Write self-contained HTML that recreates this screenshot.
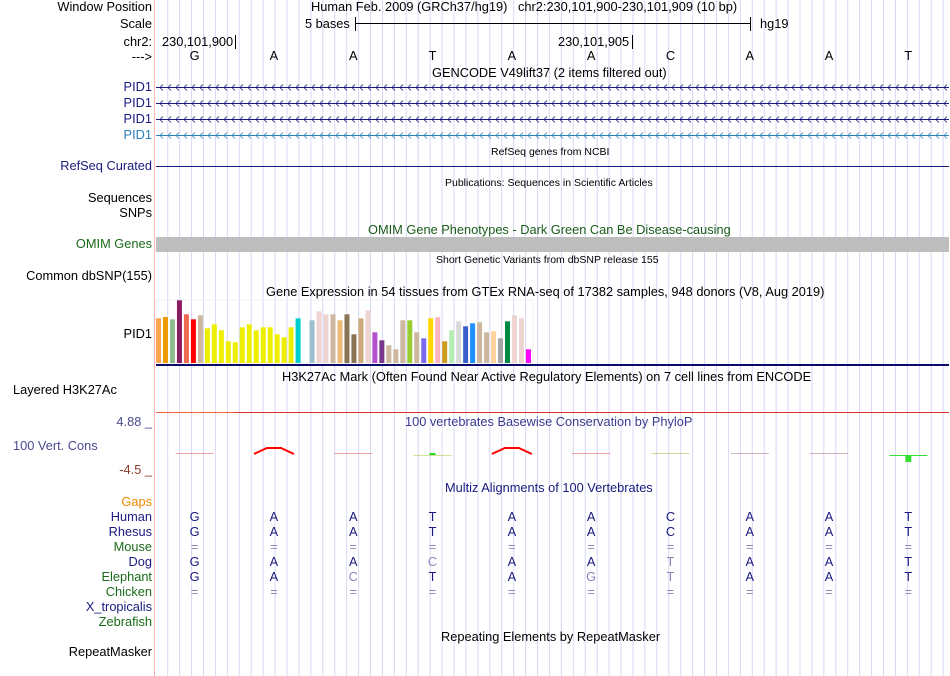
<!DOCTYPE html>
<html><head><meta charset="utf-8"><style>
body{margin:0;width:950px;height:676px;background:#fff;overflow:hidden;position:relative;font-family:"Liberation Sans",sans-serif;}
.t{position:absolute;white-space:nowrap;font-size:12.8px;line-height:14px;color:#000;}
.l{position:absolute;right:798px;white-space:nowrap;font-size:12.8px;line-height:14px;text-align:right;}
.s{position:absolute;white-space:nowrap;font-size:10.5px;line-height:12px;}
svg{position:absolute;left:0;top:0;}
</style></head><body>
<svg id="bg" width="950" height="676"></svg>

<div class="l" style="top:0">Window Position</div>
<div class="l" style="top:17px">Scale</div>
<div class="l" style="top:35px">chr2:</div>
<div class="l" style="top:50px">---&gt;</div>
<div class="t" style="left:311px;top:0">Human Feb. 2009 (GRCh37/hg19) &nbsp; chr2:230,101,900-230,101,909 (10 bp)</div>
<div class="t" style="left:305px;top:17px">5 bases</div>
<div class="t" style="left:760px;top:17px">hg19</div>
<div class="t" style="left:162px;top:35px">230,101,900</div>
<div class="t" style="left:558px;top:35px">230,101,905</div>
<div id="bases"></div>

<div class="t" style="left:432px;top:66px">GENCODE V49lift37 (2 items filtered out)</div>
<div class="l" style="top:80px;color:#1a1a80">PID1</div>
<div class="l" style="top:96px;color:#1a1a80">PID1</div>
<div class="l" style="top:112px;color:#1a1a80">PID1</div>
<div class="l" style="top:128px;color:#2a80bb">PID1</div>
<div class="s" style="left:491px;top:146px">RefSeq genes from NCBI</div>
<div class="l" style="top:159px;color:#1a1a80">RefSeq Curated</div>
<div class="s" style="left:445px;top:177px">Publications: Sequences in Scientific Articles</div>
<div class="l" style="top:191px">Sequences</div>
<div class="l" style="top:206px">SNPs</div>
<div class="t" style="left:368px;top:223px;color:#1a5c1a">OMIM Gene Phenotypes - Dark Green Can Be Disease-causing</div>
<div class="l" style="top:237px;color:#1a6a1a">OMIM Genes</div>
<div class="s" style="left:436px;top:254px">Short Genetic Variants from dbSNP release 155</div>
<div class="l" style="top:269px">Common dbSNP(155)</div>
<div class="t" style="left:266px;top:285px">Gene Expression in 54 tissues from GTEx RNA-seq of 17382 samples, 948 donors (V8, Aug 2019)</div>
<div class="l" style="top:327px">PID1</div>
<div class="t" style="left:282px;top:370px">H3K27Ac Mark (Often Found Near Active Regulatory Elements) on 7 cell lines from ENCODE</div>
<div class="t" style="left:13px;top:383px">Layered H3K27Ac</div>
<div class="l" style="top:415px;color:#4a4a90">4.88 _</div>
<div class="t" style="left:405px;top:415px;color:#3a3a90">100 vertebrates Basewise Conservation by PhyloP</div>
<div class="t" style="left:13px;top:439px;color:#4a4a90">100 Vert. Cons</div>
<div class="l" style="top:463px;color:#8a3a2a">-4.5 _</div>
<div class="t" style="left:445px;top:481px;color:#1a1a80">Multiz Alignments of 100 Vertebrates</div>
<div class="l" style="top:495px;color:#ee8800">Gaps</div>
<div class="l" style="top:510px;color:#1a1a80">Human</div>
<div class="l" style="top:525px;color:#1a1a80">Rhesus</div>
<div class="l" style="top:540px;color:#1a6a1a">Mouse</div>
<div class="l" style="top:555px;color:#1a1a80">Dog</div>
<div class="l" style="top:570px;color:#1a6a1a">Elephant</div>
<div class="l" style="top:585px;color:#1a6a1a">Chicken</div>
<div class="l" style="top:600px;color:#1a1a80">X_tropicalis</div>
<div class="l" style="top:615px;color:#1a6a1a">Zebrafish</div>
<div class="t" style="left:441px;top:630px">Repeating Elements by RepeatMasker</div>
<div class="l" style="top:645px">RepeatMasker</div>
<div id="aln"></div>

<script>
const bases = ["G","A","A","T","A","A","C","A","A","T"];
const aligns = [
 ["GAATAACAAT","0000000000"],
 ["GAATAACAAT","0000000000"],
 ["==========","1111111111"],
 ["GAACAATAAT","0001001000"],
 ["GACTAGTAAT","0010011000"],
 ["==========","1111111111"]
];
const gtexValues = [44.7,46,43.7,62.7,48.7,43.7,47.7,34.7,38.7,32.7,21.7,20.7,35.7,38.7,32.7,35.7,35.7,28.7,25.7,35.7,44.7,0,42.7,51.7,48.7,48.7,42.7,48.7,28.7,44.7,52.7,30.7,22.7,17.7,13.7,42.7,42.7,30.7,24.7,44.7,45.7,21.7,32.7,41.7,36.7,39.7,40.7,30.7,31.7,24.7,41.7,47.7,44.7,13.7];
const gtexColors = ["#ffa54f","#ee9a00","#8fbc8f","#8b1c62","#ee6a50","#ff0000","#cdb79e","#eeee00","#eeee00","#eeee00","#eeee00","#eeee00","#eeee00","#eeee00","#eeee00","#eeee00","#eeee00","#eeee00","#eeee00","#eeee00","#00cdcd","#fff","#9ac0cd","#eed5d2","#eed5d2","#cdb79e","#eebb77","#8b7355","#8b7355","#cdaa7d","#eed5d2","#b452cd","#7a378b","#cdb79e","#cdb79e","#cdb79e","#9acd32","#cdb79e","#7b68ee","#ffd700","#ffb6c1","#cd9b1d","#b4eeb4","#d9d9d9","#3a5fcd","#1e90ff","#cdb79e","#cdb79e","#ffd39b","#a6a6a6","#008b45","#eed5d2","#eed5d2","#ff00ff"];
const phyloScores = [-0.2,2.0,-0.2,0.3,2.0,-0.2,-0.1,-0.2,-0.2,0.6];
const phyloColors = ["#e03030","#ff0000","#e03030","#99bb22","#ff0000","#e03030","#aaaa22","#a06060","#a06060","#33dd33"];

const NS="http://www.w3.org/2000/svg";
const svg=document.getElementById('bg');
function mk(tag,attrs){const e=document.createElementNS(NS,tag);for(const k in attrs)e.setAttribute(k,attrs[k]);svg.appendChild(e);return e;}
const X0=156,X1=949,bw=(X1-X0)/bases.length;
const bx=i=>X0+bw*(i+0.5)-1;
for(let x=167.7;x<950;x+=11.93){const g=mk('line',{x1:x,x2:x,y1:0,y2:676,stroke:'#d8d8f4','stroke-width':1});

}
mk('line',{x1:154.5,x2:154.5,y1:0,y2:676,stroke:'#ffb0b0','stroke-width':1});
mk('line',{x1:355,x2:750,y1:23.5,y2:23.5,stroke:'#000'});
mk('line',{x1:355.5,x2:355.5,y1:17,y2:31,stroke:'#000'});
mk('line',{x1:750.5,x2:750.5,y1:17,y2:31,stroke:'#000'});
mk('line',{x1:235.5,x2:235.5,y1:35,y2:49,stroke:'#000'});
mk('line',{x1:632.5,x2:632.5,y1:35,y2:49,stroke:'#000'});
[[87,'#1a1a80'],[103,'#1a1a80'],[119,'#1a1a80'],[135,'#2a80bb']].forEach(([y,c])=>{
 const ln=mk('line',{x1:156,x2:949,y1:y+.5,y2:y+.5,stroke:c});
 
 
 let d='';for(let x=160;x<949;x+=8)d+=`M${x+3},${y-2.5}L${x},${y+.5}L${x+3},${y+3.5}`;
 mk('path',{d:d,stroke:c,fill:'none','stroke-width':0.8});
});
mk('line',{x1:156,x2:949,y1:166.5,y2:166.5,stroke:'#1a1a80'});
const om=mk('rect',{x:156,y:237,width:793,height:15,fill:'#bebebe'});


mk('rect',{x:156,y:300,width:377,height:63,fill:'none',stroke:'#f0f0f0'});
const gBase=363,gScale=1,gStep=6.98;
gtexValues.forEach((v,i)=>{if(!v)return;const r=mk('rect',{x:156+i*gStep,y:gBase-v*gScale,width:5,height:v*gScale,fill:gtexColors[i]});

});
mk('rect',{x:156,y:364,width:793,height:2,fill:'#0a0a6a'});
mk('line',{x1:156,x2:235,y1:412.5,y2:412.5,stroke:'#f06040'});
mk('line',{x1:235,x2:949,y1:412.5,y2:412.5,stroke:'#e03030'});
const py=v=>454-v*3;
phyloScores.forEach((v,i)=>{const cx=bx(i);let e;
 if(v>1){e=mk('path',{d:`M${cx-20},${454}L${cx-7},${py(v)}L${cx+7},${py(v)}L${cx+20},${454}`,stroke:phyloColors[i],fill:'none','stroke-width':2});}
 else if(v>0.4){mk('line',{x1:cx-19,x2:cx+19,y1:455.5,y2:455.5,stroke:phyloColors[i]});e=mk('rect',{x:cx-3,y:456,width:6,height:6,fill:phyloColors[i]});}
 else{e=mk('line',{x1:cx-19,x2:cx+19,y1:453.5+(v>0?2:0),y2:453.5+(v>0?2:0),stroke:phyloColors[i],'stroke-opacity':0.45});
  if(v>0)mk('rect',{x:cx-3,y:453,width:6,height:2,fill:'#22dd22'});}
 
 });
let h='';bases.forEach((b,i)=>{h+=`<div class="t" style="left:${bx(i)-5}px;top:49px;width:10px;text-align:center">${b}</div>`;});
document.getElementById('bases').innerHTML=h;
let a='';aligns.forEach(([s,f],r)=>{for(let i=0;i<10;i++){const c=f[i]==='1'?'#8888bb':'#1a1a80';
a+=`<div class="t" style="left:${bx(i)-5}px;top:${510+r*15}px;width:10px;text-align:center;color:${c}">${s[i]}</div>`;}});
document.getElementById('aln').innerHTML=a;
</script>
</body></html>
